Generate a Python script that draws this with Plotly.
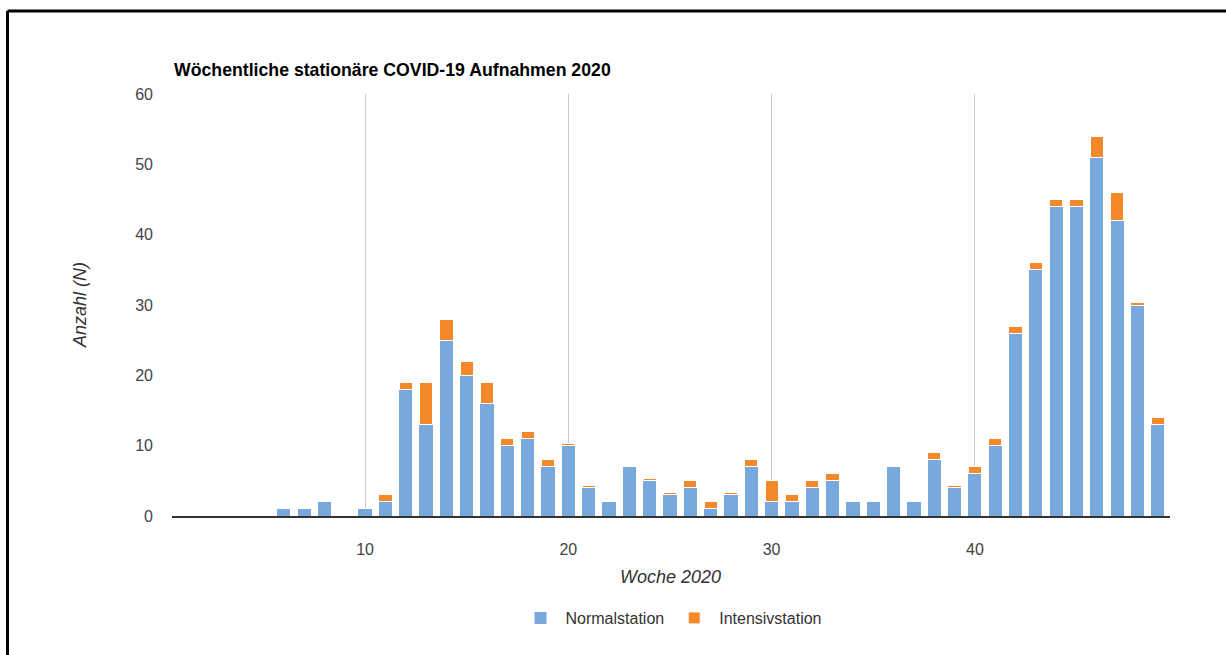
import plotly.graph_objects as go

weeks = list(range(1, 50))
normalstation = [0, 0, 0, 0, 0, 1, 1, 2, 0, 1,
                 2, 18, 13, 25, 20, 16, 10, 11, 7, 10,
                 4, 2, 7, 5, 3, 4, 1, 3, 7, 2,
                 2, 4, 5, 2, 2, 7, 2, 8, 4, 6,
                 10, 26, 35, 44, 44, 51, 42, 30, 13]
intensivstation = [0, 0, 0, 0, 0, 0, 0, 0, 0, 0,
                   1, 1, 6, 3, 2, 3, 1, 1, 1, 0.3,
                   0.3, 0, 0, 0.3, 0.3, 1, 1, 0.3, 1, 3,
                   1, 1, 1, 0, 0, 0, 0, 1, 0.3, 1,
                   1, 1, 1, 1, 1, 3, 4, 0.3, 1]
x_ticks = [10, 20, 30, 40]
y_ticks = [0, 10, 20, 30, 40, 50, 60]

BLUE = "#79A8DF"
ORANGE = "#F4892A"
FONT = "Arial, Liberation Sans, sans-serif"

fig = go.Figure()
fig.add_trace(go.Bar(x=weeks, y=normalstation, name="Normalstation",
                     marker=dict(color=BLUE, line=dict(color="white", width=0))))
fig.add_trace(go.Bar(x=weeks, y=intensivstation, name="Intensivstation",
                     marker=dict(color=ORANGE, line=dict(color="white", width=1))))

fig.update_layout(
    width=1226, height=655,
    barmode="stack", bargap=0.35,
    plot_bgcolor="white", paper_bgcolor="white",
    margin=dict(l=172, r=56, t=94, b=139),
    font=dict(family=FONT, size=16, color="#444"),
    showlegend=True,
    legend=dict(orientation="h", x=0.5, xanchor="center", y=-0.2417, yanchor="middle",
                font=dict(size=16, color="#333"), itemwidth=40, traceorder="normal"),
    xaxis=dict(range=[0.5, 49.6], tickvals=x_ticks, ticktext=[str(t) for t in x_ticks],
               showgrid=True, gridcolor="#CCCCCC", gridwidth=1,
               showline=True, linecolor="#333333", linewidth=1.5,
               ticks="", ticklabelstandoff=18, zeroline=False,
               tickfont=dict(size=16, color="#444")),
    yaxis=dict(range=[0, 60], tickvals=y_ticks, showgrid=False, zeroline=False,
               showline=False, ticks="", ticklabelstandoff=18,
               tickfont=dict(size=16, color="#444")),
    annotations=[
        dict(text="<b>Wöchentliche stationäre COVID-19 Aufnahmen 2020</b>",
             xref="paper", yref="paper", x=0, y=1.0569, xanchor="left", yanchor="middle",
             showarrow=False, font=dict(family=FONT, size=17.7, color="#000")),
        dict(text="<i>Woche 2020</i>", xref="paper", yref="paper",
             x=0.4995, y=(516 - 577) / 422, xanchor="center", yanchor="middle",
             showarrow=False, font=dict(family=FONT, size=18, color="#333")),
        dict(text="<i>Anzahl (N)</i>", xref="paper", yref="paper",
             x=(80 - 172) / 998, y=0.5, xanchor="center", yanchor="middle", textangle=-90,
             showarrow=False, font=dict(family=FONT, size=18, color="#333")),
    ],
    shapes=[
        dict(type="line", xref="paper", yref="paper",
             x0=(7.5 - 172) / 998, x1=(1226 - 172) / 998,
             y0=(516 - 11) / 422, y1=(516 - 11) / 422,
             line=dict(color="black", width=3)),
        dict(type="line", xref="paper", yref="paper",
             x0=(7.5 - 172) / 998, x1=(7.5 - 172) / 998,
             y0=(516 - 11) / 422, y1=(516 - 660) / 422,
             line=dict(color="black", width=3)),
    ],
)

fig.write_html("out.html")
